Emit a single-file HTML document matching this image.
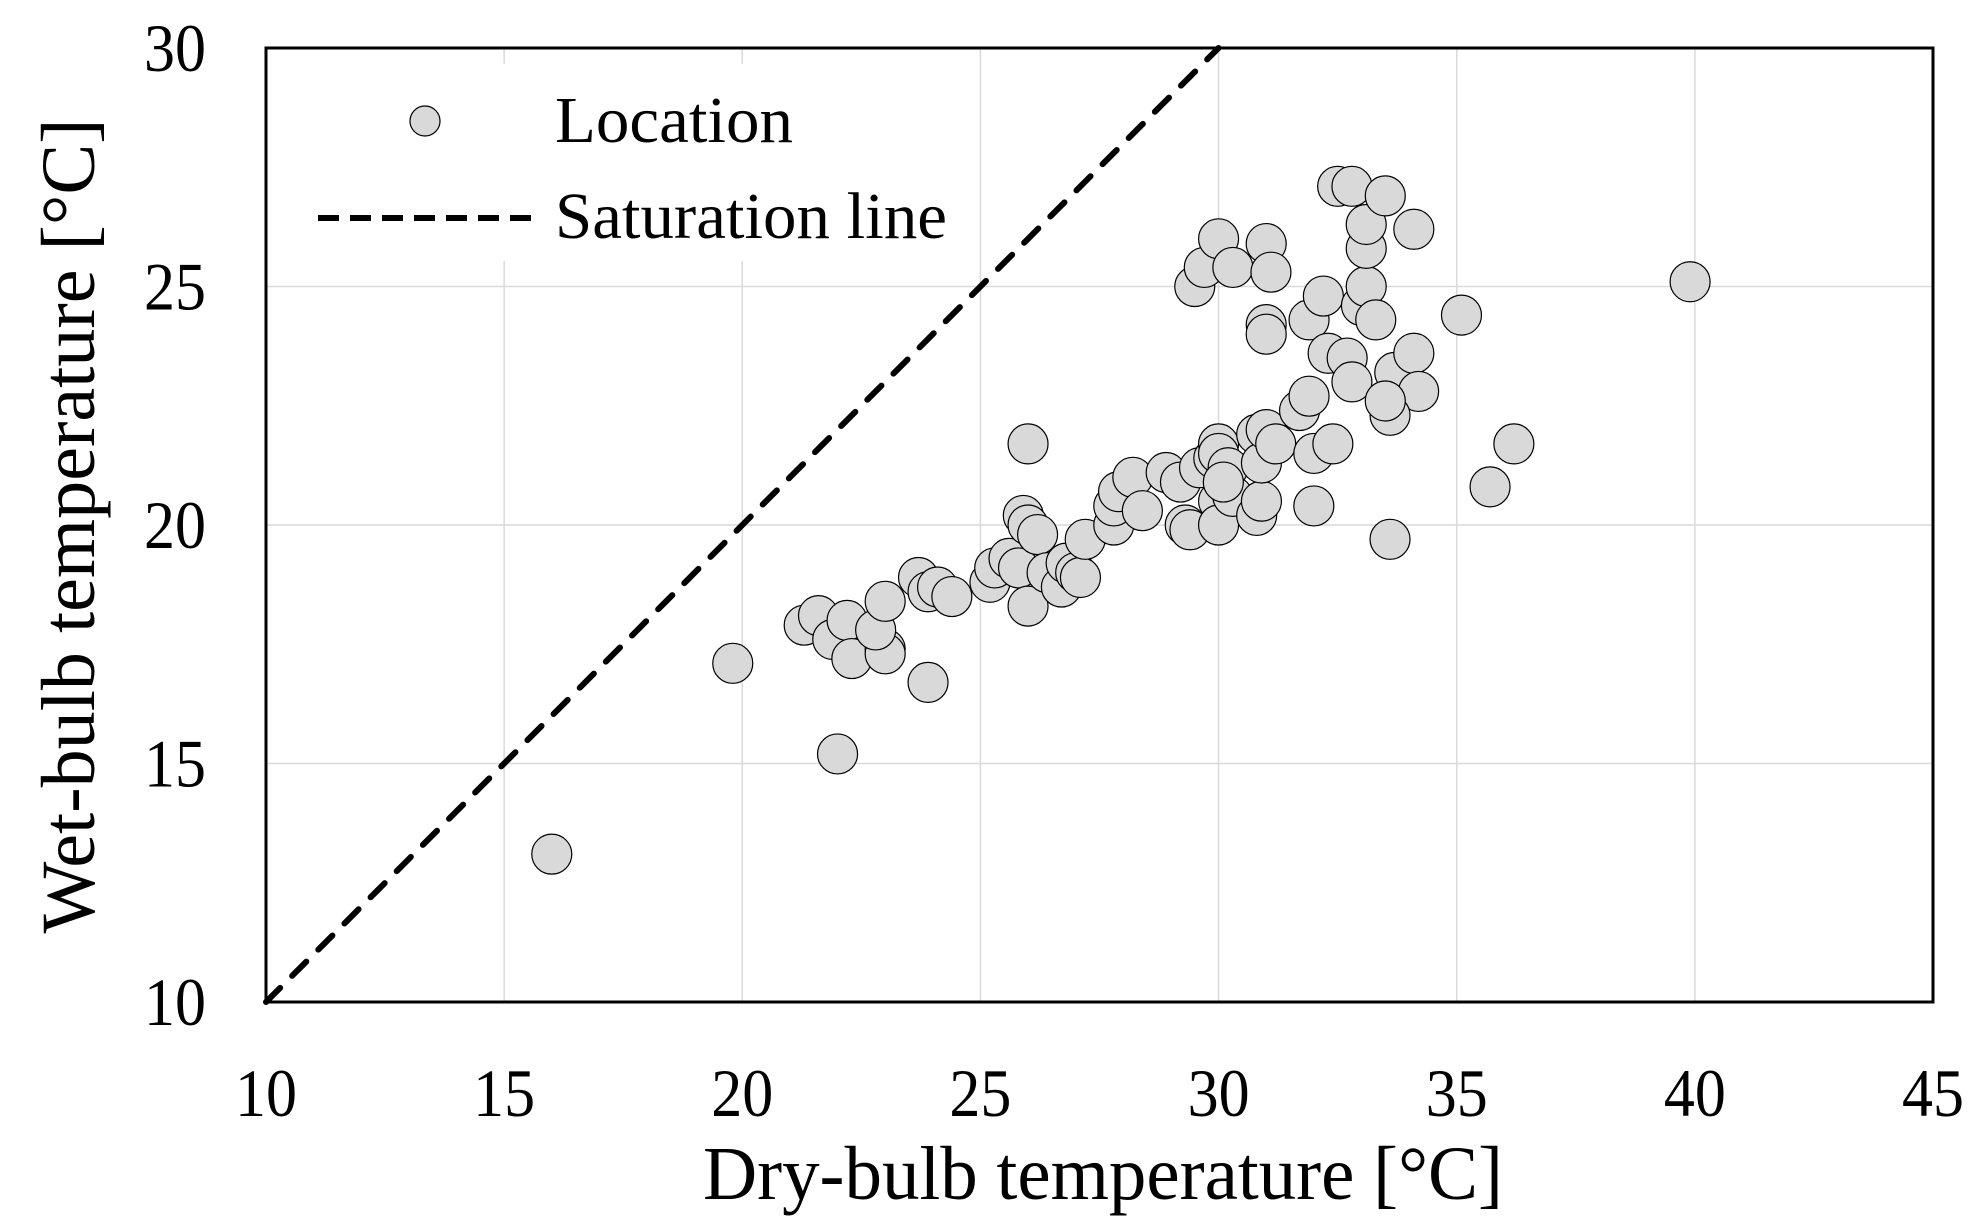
<!DOCTYPE html>
<html><head><meta charset="utf-8"><style>
html,body{margin:0;padding:0;background:#fff;}
svg{display:block;font-family:"Liberation Serif",serif;}
</style></head><body>
<svg id="chart" width="1988" height="1231" viewBox="0 0 1988 1231" xmlns="http://www.w3.org/2000/svg">
<g id="grid"></g>
<g id="sat"></g>
<g id="pts"></g>
<rect x="266" y="48" width="1667" height="954" fill="none" stroke="#000" stroke-width="3"/>
<g id="xt" font-size="68" text-anchor="middle"></g>
<g id="yt" font-size="68" text-anchor="end"></g>
<text x="1103" y="1199" font-size="76" text-anchor="middle" textLength="800" lengthAdjust="spacingAndGlyphs">Dry-bulb temperature [°C]</text>
<text transform="translate(94,526) rotate(-90)" font-size="76" text-anchor="middle" textLength="815" lengthAdjust="spacingAndGlyphs">Wet-bulb temperature [°C]</text>
<g>
<rect x="293" y="64" width="669" height="197" fill="#fff"/>
<circle cx="425" cy="121" r="15" fill="#d9d9d9" stroke="#000" stroke-width="1.2"/>
<text x="555" y="142" font-size="66" textLength="238" lengthAdjust="spacingAndGlyphs">Location</text>
<line x1="318" y1="218" x2="535" y2="218" stroke="#000" stroke-width="6" stroke-dasharray="21 11"/>
<text x="555" y="238" font-size="66" textLength="392" lengthAdjust="spacingAndGlyphs">Saturation line</text>
</g>
</svg>
<script>
const xTicks=[10,15,20,25,30,35,40,45];
const yTicks=[10,15,20,25,30];
const satX=[10,30];
const satY=[10,30];
const dryBulb=[16,19.8,22,21.3,21.6,21.9,22.2,22.3,23,23,22.8,23,23.7,23.9,24.1,24.4,23.9,25.2,25.3,25.6,25.8,26,25.9,26,26.2,26,26.4,26.7,26.8,27,27.1,27.2,27.8,27.8,27.9,28.2,28.4,28.9,29.2,29.3,29.4,29.6,29.9,30,30,30,30,30.2,30.3,30.1,30.8,30.8,30.9,30.9,31,31.2,31.7,31.9,32,32.4,32,31.9,32.2,32.3,32.7,32.8,33,33.1,33.3,33.1,33.1,32.5,32.8,33.5,34.1,33.7,34.1,34.2,33.6,33.5,33.6,35.1,35.7,36.2,39.9,29.5,29.7,30,30.3,31,31.1,31,31];
const wetBulb=[13.1,17.1,15.2,17.9,18.1,17.6,18.0,17.2,17.4,17.3,17.8,18.4,18.9,18.6,18.7,18.5,16.7,18.8,19.1,19.3,19.1,18.3,20.2,20.0,19.8,21.7,19.0,18.7,19.2,19.0,18.9,19.7,20.0,20.4,20.7,21.0,20.3,21.1,20.9,20.0,19.9,21.2,21.4,21.7,21.5,20.5,20.0,21.2,20.6,20.9,21.9,20.2,20.5,21.3,22.0,21.7,22.4,22.7,21.5,21.7,20.4,24.3,24.8,23.6,23.5,23.0,24.6,25.0,24.3,25.8,26.3,27.1,27.1,26.9,26.2,23.2,23.6,22.8,22.3,22.6,19.7,24.4,20.8,21.7,25.1,25.0,25.4,26.0,25.4,25.9,25.3,24.2,24.0];
const NS="http://www.w3.org/2000/svg";
const X0=266,X1=1933,Y0=1002,Y1=48;
function sx(v){return X0+(v-10)/35*(X1-X0);}
function sy(v){return Y0-(v-10)/20*(Y0-Y1);}
function mk(tag,attrs,parent){const e=document.createElementNS(NS,tag);for(const k in attrs)e.setAttribute(k,attrs[k]);parent.appendChild(e);return e;}
const grid=document.getElementById('grid');
xTicks.forEach(t=>{if(t>10&&t<45){const l=mk('line',{x1:sx(t),x2:sx(t),y1:Y1,y2:Y0,stroke:'#d9d9d9','stroke-width':1.5},grid);

}});
yTicks.forEach(t=>{if(t>10&&t<30){const l=mk('line',{x1:X0,x2:X1,y1:sy(t),y2:sy(t),stroke:'#d9d9d9','stroke-width':1.5},grid);

}});
const sat=document.getElementById('sat');
const sl=mk('line',{x1:sx(satX[0]),y1:sy(satY[0]),x2:sx(satX[1]),y2:sy(satY[1]),stroke:'#000','stroke-width':6,'stroke-dasharray':'20 17','stroke-linecap':'round'},sat);


const pts=document.getElementById('pts');
dryBulb.forEach((d,i)=>{const c=mk('circle',{cx:sx(d),cy:sy(wetBulb[i]),r:20,fill:'#d9d9d9',stroke:'#000','stroke-width':1.2},pts);

});
const xt=document.getElementById('xt');
xTicks.forEach(t=>{const e=mk('text',{x:sx(t),y:1116,textLength:62,lengthAdjust:'spacingAndGlyphs'},xt);e.textContent=t;

});
const yt=document.getElementById('yt');
yTicks.forEach(t=>{const e=mk('text',{x:206,y:sy(t)+23,textLength:62,lengthAdjust:'spacingAndGlyphs'},yt);e.textContent=t;

});
</script>
</body></html>
